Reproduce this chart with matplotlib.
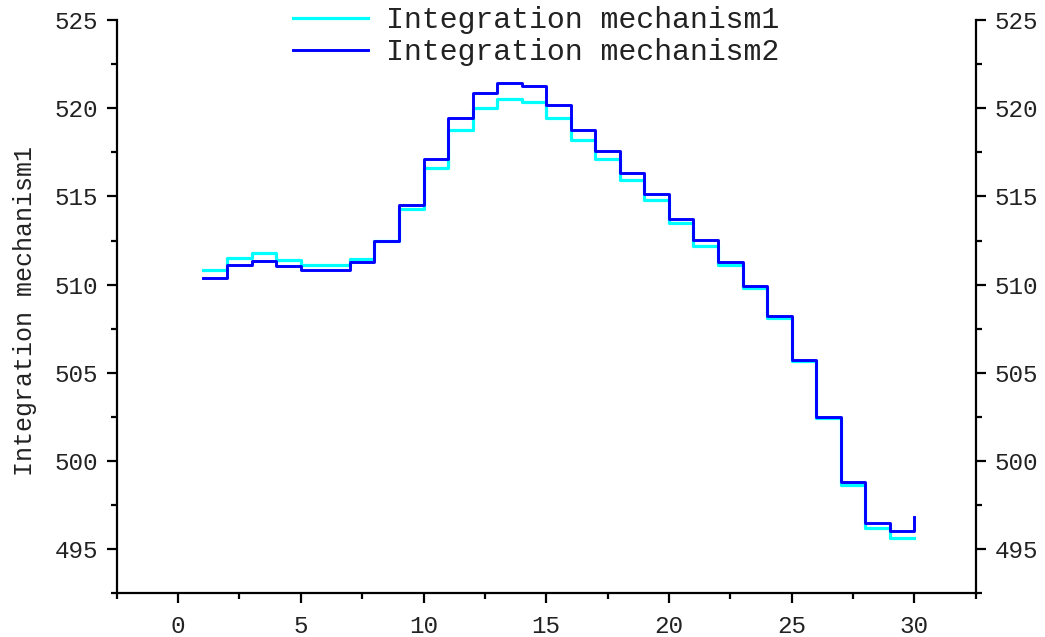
import numpy as np
import matplotlib.pyplot as plt
from matplotlib.ticker import MultipleLocator

# ---------------- DATA ----------------
x = np.arange(1, 31)

mech1 = [510.86, 511.52, 511.78, 511.42, 511.10, 511.10, 511.44, 512.45, 514.28, 516.62,
         518.76, 519.99, 520.50, 520.37, 519.46, 518.19, 517.10, 515.96, 514.79, 513.47,
         512.22, 511.09, 509.80, 508.12, 505.65, 502.45, 498.66, 496.20, 495.66, 495.66]

mech2 = [510.38, 511.09, 511.34, 511.05, 510.82, 510.86, 511.29, 512.48, 514.51, 517.10,
         519.46, 520.84, 521.41, 521.26, 520.16, 518.76, 517.57, 516.34, 515.13, 513.73,
         512.52, 511.27, 509.93, 508.21, 505.71, 502.50, 498.81, 496.51, 496.02, 496.83]

labels = ["Integration mechanism1", "Integration mechanism2"]
ylabel = "Integration mechanism1"
# --------------------------------------

FONT = "Liberation Mono"
TEXT_COLOR = "#222222"

fig = plt.figure(figsize=(10.45, 6.37), dpi=100)
ax = fig.add_axes([0.1117, 0.0686, 0.8220, 0.8998])

ax.step(x, mech1, where="post", color="#00FFFF", linewidth=2.3, label=labels[0])
ax.step(x, mech2, where="post", color="#0000FF", linewidth=2.1, label=labels[1])

ax.set_xlim(-2.5, 32.5)
ax.set_ylim(492.5, 525)

ax.xaxis.set_major_locator(MultipleLocator(5))
ax.xaxis.set_minor_locator(MultipleLocator(2.5))
ax.yaxis.set_major_locator(MultipleLocator(5))
ax.yaxis.set_minor_locator(MultipleLocator(2.5))

ax.spines["top"].set_visible(False)
for s in ["left", "right", "bottom"]:
    ax.spines[s].set_linewidth(1.6)

ax.tick_params(which="both", direction="out", width=1.6, colors="black",
               left=True, right=True, labelright=True)
ax.tick_params(which="major", length=7.5, pad=6, labelsize=17.5, labelcolor=TEXT_COLOR)
ax.tick_params(which="minor", length=4)
ax.tick_params(axis="x", which="major", pad=8)
ax.yaxis.set_tick_params(which="major", labelfontfamily=FONT)
ax.xaxis.set_tick_params(which="major", labelfontfamily=FONT)

ax.set_ylabel(ylabel, fontsize=18, fontfamily=FONT, color=TEXT_COLOR)
ax.yaxis.set_label_coords(-0.093, 0.492)

leg = ax.legend(loc="upper left", bbox_to_anchor=(293 / 1045, 1 - 6 / 637),
                bbox_transform=fig.transFigure, frameon=False,
                prop={"family": FONT, "size": 21.5}, borderpad=0, borderaxespad=0,
                handlelength=2.5, handletextpad=0.6, labelspacing=0.15)
for t in leg.get_texts():
    t.set_color(TEXT_COLOR)

plt.savefig("out.png", dpi=100)
